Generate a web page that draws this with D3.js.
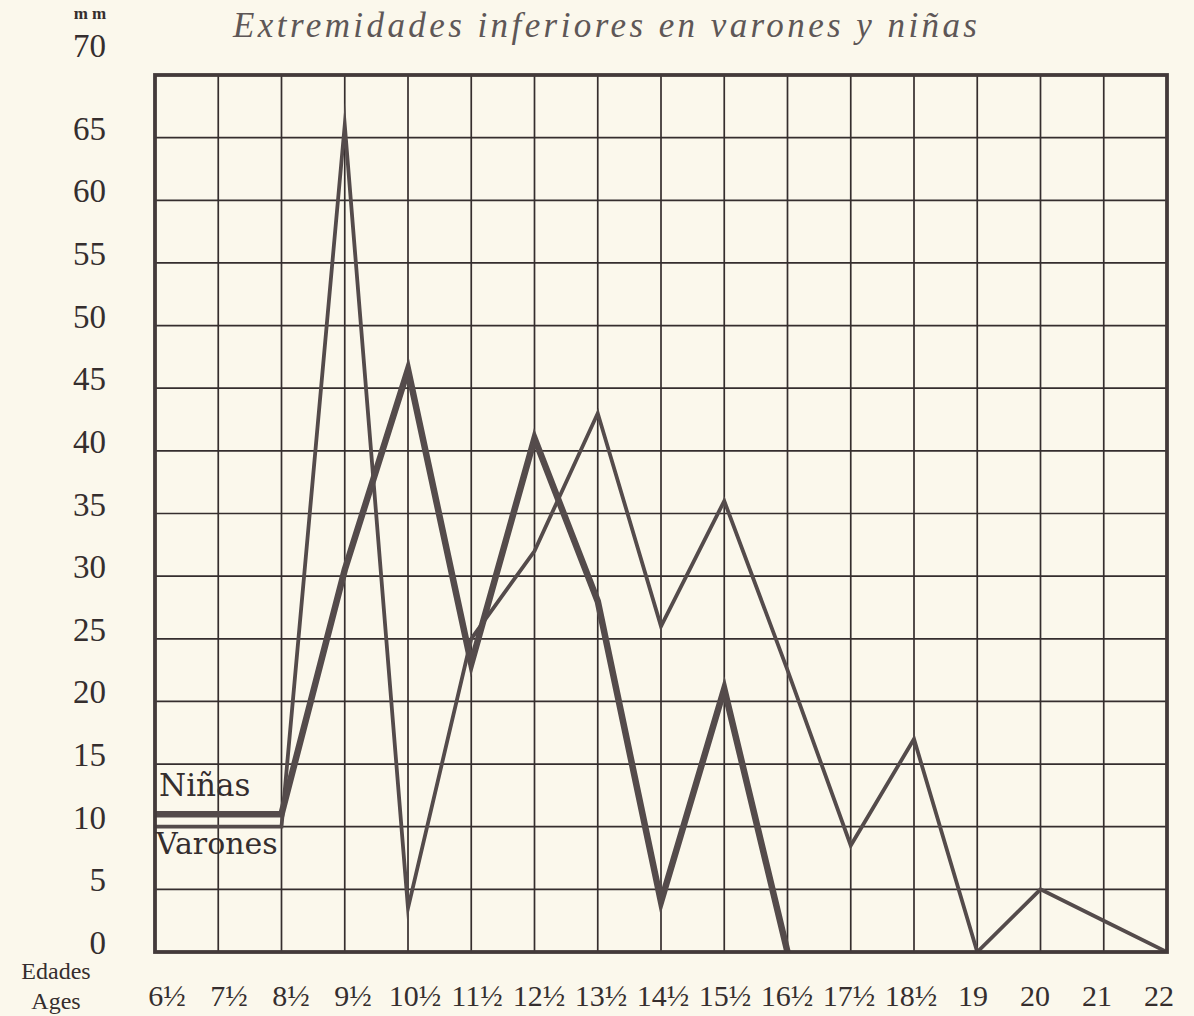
<!DOCTYPE html>
<html>
<head>
<meta charset="utf-8">
<script src="https://cdn.jsdelivr.net/npm/d3@7"></script>
<style>
  html, body { margin: 0; padding: 0; background: #fbf8ec; }
  svg { display: block; }
</style>
</head>
<body>
<div id="chart"></div>
<script>
// Ages along the bottom (the ½ years up to 18½, then whole years)
const ages = ['6½', '7½', '8½', '9½', '10½', '11½', '12½', '13½', '14½', '15½', '16½', '17½', '18½', '19', '20', '21', '22'];
// values in mm
const ninas = [11, 11, 11, 30.5, 46.5, 23, 41, 28, 4, 21, 0];
const varones = [10, 10, 10, 66, 3.5, 25, 32, 43, 26, 36, 22.5, 8.5, 17, 0, 5, 2.5, 0];
const yTicks = [0, 5, 10, 15, 20, 25, 30, 35, 40, 45, 50, 55, 60, 65, 70];

const width = 1194, height = 1016;
const margin = { top: 75, right: 27, bottom: 64, left: 155 };
const ink = '#352e2e';
const lineInk = '#544b4b';

const svg = d3.select('#chart')
  .append('svg')
  .attr('width', width)
  .attr('height', height);

svg.append('rect')
  .attr('width', width)
  .attr('height', height)
  .attr('fill', '#fbf8ec');

const x = d3.scalePoint()
  .domain(ages)
  .range([margin.left, width - margin.right]);

const y = d3.scaleLinear()
  .domain([0, 70])
  .range([height - margin.bottom, margin.top]);

// labels under the axis sit a little inside the outer grid lines
const xLabel = d3.scalePoint()
  .domain(ages)
  .range([margin.left + 12, width - margin.right - 8]);

// grid
const grid = svg.append('g')
  .attr('stroke', ink)
  .attr('stroke-width', 1.7);

grid.selectAll('.hline')
  .data(yTicks.slice(1, -1))
  .join('line')
  .attr('class', 'hline')
  .attr('x1', margin.left)
  .attr('x2', width - margin.right)
  .attr('y1', d => y(d))
  .attr('y2', d => y(d));

grid.selectAll('.vline')
  .data(ages.slice(1, -1))
  .join('line')
  .attr('class', 'vline')
  .attr('x1', d => x(d))
  .attr('x2', d => x(d))
  .attr('y1', y(70))
  .attr('y2', y(0));

// clip for the data lines
svg.append('clipPath')
  .attr('id', 'plot')
  .append('rect')
  .attr('x', margin.left)
  .attr('y', y(70))
  .attr('width', width - margin.right - margin.left)
  .attr('height', y(0) - y(70));

const line = d3.line()
  .x((d, i) => x(ages[i]))
  .y(d => y(d));

const lines = svg.append('g')
  .attr('clip-path', 'url(#plot)')
  .attr('fill', 'none')
  .attr('stroke', lineInk)
  .attr('stroke-linejoin', 'miter')
  .attr('stroke-miterlimit', 30);

lines.append('path')
  .attr('d', line(varones))
  .attr('stroke-width', 3.8);

lines.append('path')
  .attr('d', line(ninas))
  .attr('stroke-width', 6.5);

// frame
svg.append('rect')
  .attr('x', margin.left)
  .attr('y', y(70))
  .attr('width', width - margin.right - margin.left)
  .attr('height', y(0) - y(70))
  .attr('fill', 'none')
  .attr('stroke', '#433a3a')
  .attr('stroke-width', 3.8);

// y labels (the 70 sits up beside the unit)
svg.append('g')
  .selectAll('text')
  .data(yTicks)
  .join('text')
  .attr('x', 106)
  .attr('y', d => d === 70 ? 57 : y(d) + 2)
  .attr('text-anchor', 'end')
  .attr('font-family', 'Liberation Serif, serif')
  .attr('font-size', 33)
  .attr('fill', ink)
  .text(d => d);

svg.append('text')
  .attr('x', 90)
  .attr('y', 19)
  .attr('text-anchor', 'middle')
  .attr('font-family', 'Liberation Serif, serif')
  .attr('font-weight', 'bold')
  .attr('font-size', 17)
  .attr('fill', ink)
  .text('m m');

// x labels
svg.append('g')
  .selectAll('text')
  .data(ages)
  .join('text')
  .attr('x', d => xLabel(d))
  .attr('y', 1006)
  .attr('text-anchor', 'middle')
  .attr('font-family', 'Liberation Serif, serif')
  .attr('font-size', 30)
  .attr('fill', ink)
  .text(d => d);

svg.append('text')
  .attr('x', 56)
  .attr('y', 979)
  .attr('text-anchor', 'middle')
  .attr('font-family', 'Liberation Serif, serif')
  .attr('font-size', 24)
  .attr('fill', ink)
  .text('Edades');

svg.append('text')
  .attr('x', 56)
  .attr('y', 1009)
  .attr('text-anchor', 'middle')
  .attr('font-family', 'Liberation Serif, serif')
  .attr('font-size', 24)
  .attr('fill', ink)
  .text('Ages');

// title
svg.append('text')
  .attr('x', 233)
  .attr('y', 37)
  .attr('textLength', 744)
  .attr('lengthAdjust', 'spacing')
  .attr('font-family', 'Liberation Serif, serif')
  .attr('font-style', 'italic')
  .attr('font-size', 35)
  .attr('fill', '#5e5757')
  .text('Extremidades inferiores en varones y niñas');

// series names written on the plate
svg.append('text')
  .attr('x', 159)
  .attr('y', 796)
  .attr('font-family', 'DejaVu Serif, serif')
  .attr('font-size', 31)
  .attr('fill', ink)
  .text('Niñas');

svg.append('text')
  .attr('x', 156)
  .attr('y', 854)
  .attr('font-family', 'DejaVu Serif, serif')
  .attr('font-size', 30)
  .attr('fill', ink)
  .text('Varones');
</script>
</body>
</html>
